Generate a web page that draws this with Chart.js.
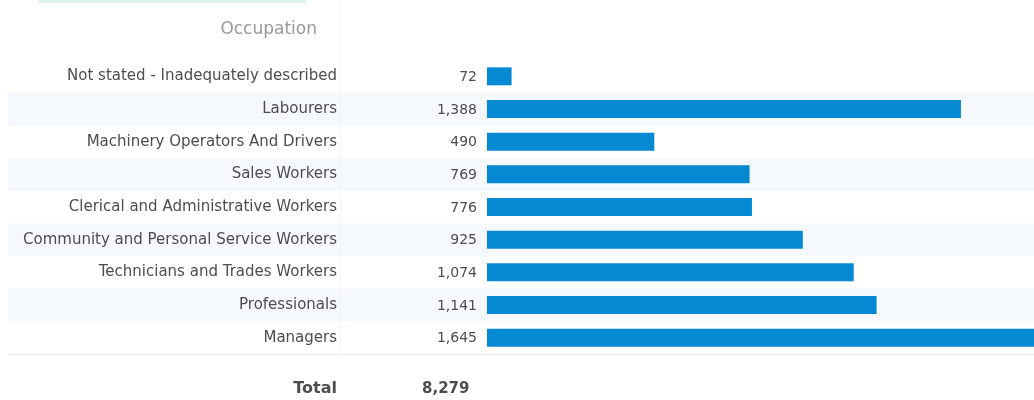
<!DOCTYPE html>
<html>
<head>
<meta charset="utf-8">
<script src="https://cdn.jsdelivr.net/npm/chart.js@4"></script>
<style>
    body { margin: 0; background: #fff; }
    #wrap { width: 1034px; height: 400px; position: relative; }
</style>
</head>
<body>
<div id="wrap"><canvas id="occChart"></canvas></div>
<script>
var Occupations = [
    'Not stated - Inadequately described',
    'Labourers',
    'Machinery Operators And Drivers',
    'Sales Workers',
    'Clerical and Administrative Workers',
    'Community and Personal Service Workers',
    'Technicians and Trades Workers',
    'Professionals',
    'Managers'
];
var Counts = [72, 1388, 490, 769, 776, 925, 1074, 1141, 1645];
var TotalCount = 8279;
var HeaderText = 'Occupation';
var TotalText = 'Total';

var textColor = '#4d4d4d';

function fmt(n) {
    return n.toLocaleString('en-US');
}

// stripes, divider lines, value column, header and total row
var tablePlugin = {
    id: 'tableDecor',
    beforeDraw: function (chart) {
        var ctx = chart.ctx;
        var y = chart.scales.y;
        var band = (chart.chartArea.bottom - chart.chartArea.top) / Occupations.length;
        ctx.save();
        ctx.fillStyle = '#f5f8fd';
        Occupations.forEach(function (name, i) {
            if (i % 2 == 1) {
                var cy = y.getPixelForValue(i);
                ctx.fillRect(8, cy - band / 2, chart.width - 8, band);
            }
        });
        // faint column divider and bottom rule
        ctx.fillStyle = '#f4f4f4';
        ctx.fillRect(340, 0, 1, chart.chartArea.bottom);
        ctx.fillStyle = '#ececec';
        ctx.fillRect(8, Math.round(chart.chartArea.bottom), chart.width - 8, 1);
        // light strip at the very top
        ctx.fillStyle = '#dcf3ef';
        ctx.fillRect(38, 0, 268, 3);
        ctx.restore();
    },
    afterDraw: function (chart) {
        var ctx = chart.ctx;
        var y = chart.scales.y;
        ctx.save();
        ctx.textBaseline = 'middle';
        ctx.font = '14px "DejaVu Sans"';
        ctx.fillStyle = textColor;
        ctx.textAlign = 'right';
        Counts.forEach(function (v, i) {
            ctx.fillText(fmt(v), 477, y.getPixelForValue(i) + 1);
        });
        ctx.font = '17px "DejaVu Sans"';
        ctx.fillStyle = '#999999';
        ctx.fillText(HeaderText, 317, 30);
        ctx.font = 'bold 16px "DejaVu Sans"';
        ctx.fillStyle = textColor;
        ctx.fillText(TotalText, 337, 389);
        ctx.font = 'bold 15px "DejaVu Sans"';
        ctx.textAlign = 'left';
        ctx.fillText(fmt(TotalCount), 422, 389);
        ctx.restore();
    }
};

var ctx = document.getElementById('occChart').getContext('2d');
var occChart = new Chart(ctx, {
    type: 'bar',
    data: {
        labels: Occupations,
        datasets: [{
            label: 'Persons',
            data: Counts,
            backgroundColor: '#0589d3',
            borderWidth: 0,
            barPercentage: 0.55,
            categoryPercentage: 1.0
        }]
    },
    options: {
        indexAxis: 'y',
        responsive: true,
        maintainAspectRatio: false,
        animation: false,
        layout: {
            padding: { top: 60, bottom: 46, left: 0, right: 0 }
        },
        plugins: {
            legend: { display: false },
            tooltip: { enabled: false }
        },
        scales: {
            x: {
                display: false,
                min: 0,
                max: 1602
            },
            y: {
                grid: { display: false, drawTicks: false },
                border: { display: false },
                ticks: {
                    color: textColor,
                    font: { family: 'DejaVu Sans', size: 15 },
                    padding: 150
                },
                afterFit: function (scale) {
                    // fixed label column; the large tick padding must not eat vertical space
                    scale.width = 487;
                    scale.paddingTop = 0;
                    scale.paddingBottom = 0;
                }
            }
        }
    },
    plugins: [tablePlugin]
});
</script>
</body>
</html>
